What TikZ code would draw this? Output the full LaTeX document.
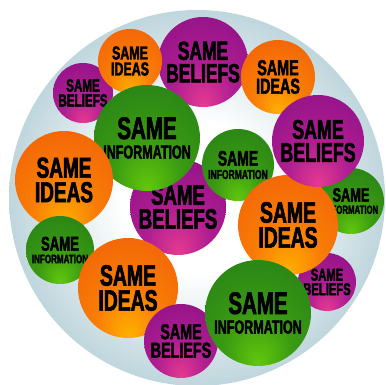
\documentclass[tikz,border=0pt]{standalone}
\usepackage{fontspec}
\newfontfamily\bubblefont{Liberation Sans}[UprightFont=* Bold, BoldFont=* Bold, FakeStretch=0.66, FakeBold=2.2]
\usepackage{tikz}

\definecolor{discedge}{HTML}{93B8C3}
\definecolor{discmid}{HTML}{BFD6DD}
\definecolor{orouter}{HTML}{EE5208}
\definecolor{ormid}{HTML}{F97D06}
\definecolor{orinner}{HTML}{FFB000}
\definecolor{puouter}{HTML}{7E0A80}
\definecolor{pumid}{HTML}{B01E92}
\definecolor{puinner}{HTML}{E63A90}
\definecolor{grouter}{HTML}{1D7419}
\definecolor{grmid}{HTML}{3A9A12}
\definecolor{grinner}{HTML}{62C80C}

\pgfdeclareradialshading{bgdisc}{\pgfpoint{0bp}{0bp}}{color(0bp)=(white); color(10bp)=(white); color(25bp)=(discmid); color(38bp)=(discedge); color(50bp)=(discedge)}
\pgfdeclareradialshading{orangeball}{\pgfpoint{0bp}{-24bp}}{color(0bp)=(orinner); color(16bp)=(ormid); color(50bp)=(orouter)}
\pgfdeclareradialshading{purpleball}{\pgfpoint{0bp}{-24bp}}{color(0bp)=(puinner); color(16bp)=(pumid); color(50bp)=(puouter)}
\pgfdeclareradialshading{greenball}{\pgfpoint{0bp}{-24bp}}{color(0bp)=(grinner); color(16bp)=(grmid); color(50bp)=(grouter)}

\newcommand{\infoline}{\\[-6pt]{\fontsize{16.5}{16}\selectfont INFORMATION}}

\begin{document}
\begin{tikzpicture}[x=1pt,y=-1pt,
    bubble/.style={circle, inner sep=0pt, minimum size=92pt, align=center,
      font=\bubblefont\fontsize{27}{23}\selectfont},
    idea/.style={bubble, shading=orangeball},
    belief/.style={bubble, shading=purpleball},
    info/.style={bubble, shading=greenball}]
  \useasboundingbox (0,0) rectangle (386,385);

  % background disc
  \node[circle, inner sep=0pt, minimum size=376pt, shading=bgdisc] (disc) at (197,198) {};

  % back row
  \node[belief, scale=0.978] (beliefsA) at (203,62) {SAME\\BELIEFS};
  \node[belief, scale=0.652] (beliefsB) at (83,93) {SAME\\BELIEFS};
  \node[idea, scale=0.696] (ideasA) at (130,61) {SAME\\IDEAS};
  \node[idea, scale=0.804] (ideasB) at (278,77) {SAME\\IDEAS};
  \node[belief, scale=1.043] (beliefsC) at (178,207) {SAME\\BELIEFS};
  \node[info, scale=1.152] (infoA) at (147,138) {SAME\infoline};
  \node[info, scale=0.783] (infoB) at (238,165) {SAME\infoline};
  \node[info, scale=0.717] (infoC) at (351,201) {SAME\infoline};
  \node[idea, scale=1.065] (ideasC) at (64,180) {SAME\\IDEAS};
  \node[info, scale=0.739] (infoD) at (60,250) {SAME\infoline};
  \node[belief, scale=0.630] (beliefsD) at (327,282) {SAME\\BELIEFS};

  % front row
  \node[idea, scale=1.087] (ideasD) at (288,225) {SAME\\IDEAS};
  \node[belief, scale=1] (beliefsE) at (318,141) {SAME\\BELIEFS};
  \node[idea, scale=1.087] (ideasE) at (128,288) {SAME\\IDEAS};
  \node[belief, scale=0.804] (beliefsF) at (181,341) {SAME\\BELIEFS};
  \node[info, scale=1.152] (infoE) at (258,313) {SAME\infoline};
\end{tikzpicture}
\end{document}
